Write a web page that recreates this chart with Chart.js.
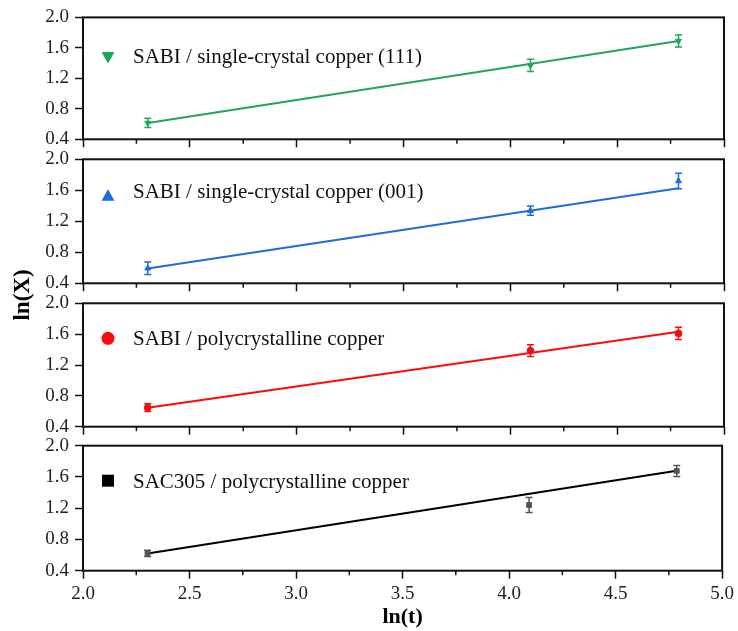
<!DOCTYPE html>
<html><head><meta charset="utf-8">
<script src="https://cdn.jsdelivr.net/npm/chart.js@4.4.0/dist/chart.umd.min.js"></script>
<style>
html,body{margin:0;padding:0;background:#fff;}
#wrap{position:relative;width:738px;height:631px;background:#fff;}
#wrap canvas{position:absolute;left:0;top:0;}
</style></head><body>
<div id="wrap">
<canvas id="c0" width="738" height="631"></canvas>
<canvas id="c1" width="738" height="631"></canvas>
<canvas id="c2" width="738" height="631"></canvas>
<canvas id="c3" width="738" height="631"></canvas>
</div>
<script>
// ---- data ----
const lnT = [2.303, 4.094, 4.787];               // ln(t) sample positions
const seriesNames = [
  'SABI / single-crystal copper (111)',
  'SABI / single-crystal copper (001)',
  'SABI / polycrystalline copper',
  'SAC305 / polycrystalline copper'
];
const cu111    = [0.615, 1.37, 1.69];
const cu111Err = [0.06, 0.08, 0.08];
const cu111Fit = [0.615, 1.69];                   // fit line value at lnT[0] and lnT[2]
const cu001    = [0.594, 1.337, 1.72];
const cu001Err = [0.08, 0.06, 0.10];
const cu001Fit = [0.59, 1.626];
const polyCu    = [0.646, 1.386, 1.61];
const polyCuErr = [0.05, 0.075, 0.08];
const polyCuFit = [0.646, 1.63];
const sac305    = [0.623, 1.241, 1.677];
const sac305Err = [0.04, 0.095, 0.07];
const sac305Fit = [0.62, 1.68];
const xTitle = 'ln(t)';
const yTitle = 'ln(X)';

// ---- styling / layout ----
const W = 738, H = 631;
const SERIF = "'Liberation Serif', 'Times New Roman', serif";
const panels = [
  {id:'c0', name:seriesNames[0], y:cu111,  err:cu111Err,  fit:cu111Fit,  color:'#21a45b', errColor:'#21a45b', marker:'triangle', rot:180, top:15.7,  bottom:139.3, legBase:46,   legMark:40},
  {id:'c1', name:seriesNames[1], y:cu001,  err:cu001Err,  fit:cu001Fit,  color:'#1f6bdc', errColor:'#1f6bdc', marker:'triangle', rot:0,   top:159.3, bottom:283.3, legBase:38.5, legMark:36},
  {id:'c2', name:seriesNames[2], y:polyCu, err:polyCuErr, fit:polyCuFit, color:'#ff0a0a', errColor:'#f01010', marker:'circle',   rot:0,   top:303.3, bottom:426.7, legBase:42,   legMark:35},
  {id:'c3', name:seriesNames[3], y:sac305, err:sac305Err, fit:sac305Fit, color:'#000000', errColor:'#555555', marker:'rect',     rot:0,   top:445.7, bottom:570.7, legBase:42,   legMark:35}
];

const decor = {
  id:'decor',
  afterDatasetsDraw(chart, args, o) {
    const ctx = chart.ctx, ca = chart.chartArea;
    const xs = chart.scales.x, ys = chart.scales.y;
    const p = o.panel;
    ctx.save();
    // error bars
    ctx.strokeStyle = p.errColor; ctx.lineWidth = 1.5;
    lnT.forEach((xv, i) => {
      const x = xs.getPixelForValue(xv);
      const y1 = ys.getPixelForValue(p.y[i] + p.err[i]);
      const y2 = ys.getPixelForValue(p.y[i] - p.err[i]);
      ctx.beginPath();
      ctx.moveTo(x, y1); ctx.lineTo(x, y2);
      ctx.moveTo(x - 3.5, y1); ctx.lineTo(x + 3.5, y1);
      ctx.moveTo(x - 3.5, y2); ctx.lineTo(x + 3.5, y2);
      ctx.stroke();
    });
    // frame
    ctx.strokeStyle = '#111'; ctx.lineWidth = 2;
    ctx.strokeRect(ca.left, ca.top, ca.right - ca.left, ca.bottom - ca.top);
    // minor x ticks
    ctx.lineWidth = 1.5;
    for (let v = xs.min + 0.25; v < xs.max; v += 0.5) {
      const x = xs.getPixelForValue(v);
      ctx.beginPath(); ctx.moveTo(x, ca.bottom); ctx.lineTo(x, ca.bottom + 4.5); ctx.stroke();
    }
    // legend entry
    const mx = ca.left + 25, my = ca.top + p.legMark;
    ctx.fillStyle = p.color;
    ctx.beginPath();
    if (p.marker === 'triangle' && p.rot === 180) {
      ctx.moveTo(mx - 6.5, my - 5.5); ctx.lineTo(mx + 6.5, my - 5.5); ctx.lineTo(mx, my + 6);
    } else if (p.marker === 'triangle') {
      ctx.moveTo(mx - 6.5, my + 5.5); ctx.lineTo(mx + 6.5, my + 5.5); ctx.lineTo(mx, my - 6);
    } else if (p.marker === 'circle') {
      ctx.arc(mx, my, 6.5, 0, Math.PI * 2);
    } else {
      ctx.rect(mx - 6, my - 6, 12, 12);
    }
    ctx.closePath(); ctx.fill();
    ctx.fillStyle = '#111';
    ctx.font = '21px ' + SERIF;
    ctx.textBaseline = 'alphabetic'; ctx.textAlign = 'left';
    ctx.fillText(p.name, ca.left + 50, ca.top + p.legBase);
    // shared y title
    if (o.yTitle) {
      ctx.translate(23, 295);
      ctx.rotate(-Math.PI / 2);
      ctx.font = 'bold 23px ' + SERIF;
      ctx.textAlign = 'center'; ctx.textBaseline = 'middle';
      ctx.fillStyle = '#000';
      ctx.fillText(yTitle, 0, 0);
    }
    ctx.restore();
  }
};

panels.forEach((p, idx) => {
  const isBottom = idx === panels.length - 1;
  new Chart(document.getElementById(p.id), {
    type: 'scatter',
    data: {
      datasets: [
        {type:'line', data:[{x:lnT[0], y:p.fit[0]}, {x:lnT[2], y:p.fit[1]}],
         borderColor:p.color, borderWidth:2, pointRadius:0, fill:false, order:2},
        {data: lnT.map((x, i) => ({x, y:p.y[i]})),
         pointStyle:p.marker, pointRotation:p.rot, pointRadius:3.4,
         pointBackgroundColor:p.errColor, pointBorderColor:p.errColor, showLine:false, order:1}
      ]
    },
    options: {
      responsive:false, animation:false, devicePixelRatio:1,
      layout:{padding:{top:p.top, right:14, left:0, bottom:0}},
      plugins:{legend:{display:false}, tooltip:{enabled:false},
               decor:{panel:p, yTitle:isBottom}},
      scales:{
        x:{type:'linear', min:2, max:5,
           ticks:{stepSize:0.5, padding:4, color:'#222', font:{family:SERIF, size:19},
                  callback:(v) => isBottom ? Number(v).toFixed(1) : ''},
           grid:{drawOnChartArea:false, tickLength:8, tickColor:'#111', tickWidth:1.5},
           border:{display:false},
           title:{display:isBottom, text:xTitle, color:'#000', padding:{top:0, bottom:0},
                  font:{family:SERIF, size:22, weight:'bold'}},
           afterFit:(s) => { s.height = H - p.bottom; }
        },
        y:{type:'linear', min:0.4, max:2.0,
           ticks:{stepSize:0.4, padding:6, color:'#222', font:{family:SERIF, size:19},
                  callback:(v) => Number(v).toFixed(1)},
           grid:{drawOnChartArea:false, tickLength:8, tickColor:'#111', tickWidth:1.5},
           border:{display:false},
           afterFit:(s) => { s.width = 83; }
        }
      }
    },
    plugins:[decor]
  });
});
</script>
</body></html>
